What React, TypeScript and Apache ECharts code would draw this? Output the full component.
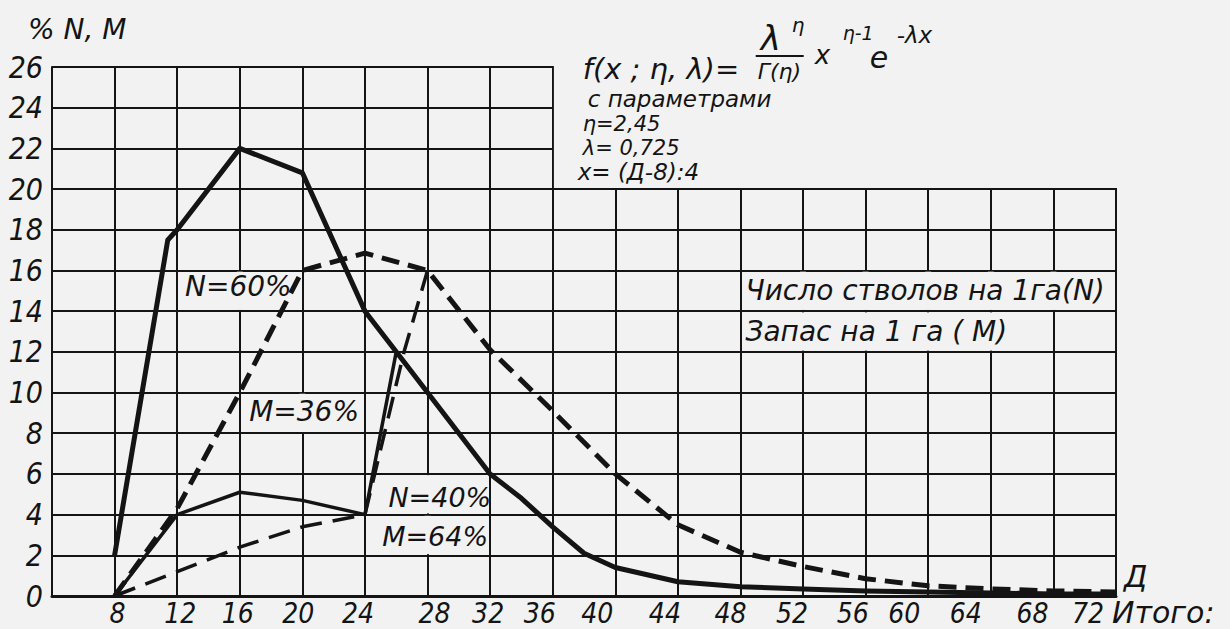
import { useEffect, useRef } from 'react';
import * as echarts from 'echarts';

const BG = '#f2f2f2';
const INK = '#141414';

// Diameter classes (Д, cm) shown on the x axis and percentage ticks on y axis
const xTickValues = [8, 12, 16, 20, 24, 28, 32, 36, 40, 44, 48, 52, 56, 60, 64, 68, 72];
const yTickValues = [0, 2, 4, 6, 8, 10, 12, 14, 16, 18, 20, 22, 24, 26];

// Total number of stems N, %
const totalN: [number, number][] = [
  [8, 2], [11.4, 17.5], [12, 18], [16, 22], [20, 20.8], [24, 14], [26, 12], [28, 10],
  [32, 6], [34, 4.8], [36, 3.4], [38, 2.1], [40, 1.4], [44, 0.7], [48, 0.45], [52, 0.35],
  [56, 0.25], [60, 0.2], [64, 0.15], [68, 0.1], [72, 0.1],
];
// Total stock M, %
const totalM: [number, number][] = [
  [8, 0], [12, 4.3], [16, 10], [20, 16], [24, 16.85], [28, 16], [32, 12.1], [36, 9.1],
  [40, 6], [44, 3.5], [48, 2.15], [52, 1.45], [56, 0.85], [60, 0.5], [64, 0.35], [68, 0.25], [72, 0.2],
];
// Component of large trees: N = 40 %
const partN: [number, number][] = [
  [8, 0], [12, 4], [16, 5.1], [20, 4.7], [24, 4], [24.4, 5.6], [26, 12],
];
// Component of large trees: M = 64 %
const partM: [number, number][] = [
  [8, 0], [12, 1.2], [16, 2.4], [20, 3.4], [24, 4], [26.5, 12], [28, 16],
];

// layout: horizontal nudges (px) of the hand-lettered x tick labels
const xLabelNudge = [3, 3, -2, -4, -7, 7, -2, -13, -18, -13, -10, -11, -13, -24, -25, -21, -28];

const FONT_AX = "'Liberation Sans Narrow', 'DejaVu Sans Condensed', 'Liberation Sans', sans-serif";
const FONT_TX = "'DejaVu Sans', 'Liberation Sans', sans-serif";

export default function App() {
  const ref = useRef<HTMLDivElement>(null);

  useEffect(() => {
    if (!ref.current) return;
    const chart = echarts.init(ref.current, null, { renderer: 'svg' });
    const lineSeries = (name: string, data: [number, number][], width: number, type: any) => ({
      name,
      type: 'line',
      data,
      symbol: 'none',
      z: 2,
      lineStyle: { color: INK, width, type, cap: 'butt', join: 'round' },
    });
    const rich: Record<string, any> = {};
    xLabelNudge.forEach((d, i) => {
      rich['l' + i] = {
        color: INK,
        fontFamily: FONT_AX,
        fontStyle: 'italic',
        fontSize: 28,
        padding: d < 0 ? [0, -2 * d, 0, 0] : [0, 0, 0, 2 * d],
      };
    });
    chart.setOption({
      animation: false,
      backgroundColor: BG,
      grid: { left: 52, right: 114, top: 67, bottom: 33, containLabel: false },
      xAxis: {
        type: 'value',
        min: 4,
        max: 72,
        interval: 4,
        axisLine: { show: true, lineStyle: { color: INK, width: 3 } },
        axisTick: { show: false },
        axisLabel: {
          color: INK,
          fontFamily: FONT_AX,
          fontStyle: 'italic',
          fontSize: 28,
          margin: 3,
          formatter: (v: number) => {
            const i = xTickValues.indexOf(v);
            return i < 0 ? '' : `{l${i}|${v}}`;
          },
          rich,
        },
        splitLine: { show: true, lineStyle: { color: INK, width: 2 } },
      },
      yAxis: {
        type: 'value',
        min: 0,
        max: 26,
        interval: 2,
        axisLine: { show: true, lineStyle: { color: INK, width: 2 } },
        axisTick: { show: false },
        axisLabel: {
          color: INK,
          fontFamily: FONT_AX,
          fontStyle: 'italic',
          fontSize: 30,
          margin: 9,
          formatter: (v: number) => (yTickValues.includes(v) ? String(v) : ''),
        },
        splitLine: { show: true, lineStyle: { color: INK, width: 2 } },
      },
      series: [
        lineSeries('N', totalN, 5, 'solid'),
        lineSeries('M', totalM, 5, [18, 9]),
        lineSeries('N40', partN, 3.5, 'solid'),
        lineSeries('M64', partM, 3.5, [22, 11]),
      ],
    });

    const p = (x: number, y: number) => chart.convertToPixel({ gridIndex: 0 }, [x, y]) as number[];
    const g: any[] = [];
    const cover = (x1: number, y1: number, x2: number, y2: number) =>
      g.push({ type: 'rect', z: 1, silent: true, shape: { x: x1, y: y1, width: x2 - x1, height: y2 - y1 }, style: { fill: BG } });
    // blank area (formula) at top right
    {
      const a = p(36, 26), b = p(72, 20);
      cover(a[0] + 1.2, a[1] - 4, b[0] + 4, b[1] - 1.2);
    }
    // erase vertical grid segments behind labels
    const eraseV = (x: number, y1: number, y2: number) => {
      const a = p(x, y1), b = p(x, y2);
      cover(a[0] - 3, a[1] + 1.2, a[0] + 3, b[1] - 1.2);
    };
    eraseV(16, 16, 14);
    eraseV(20, 10, 8);
    eraseV(28, 6, 4);
    eraseV(28, 4, 2);
    [52, 56, 60, 64, 68].forEach((x) => eraseV(x, 16, 14));
    [52, 56, 60, 64].forEach((x) => eraseV(x, 14, 12));

    const txt = (text: string, x: number, y: number, size: number, font = FONT_TX, align = 'left') =>
      g.push({
        type: 'text',
        z: 3,
        silent: true,
        x,
        y,
        style: {
          text,
          fill: INK,
          font: `italic ${size}px ${font}`,
          textAlign: align,
          textVerticalAlign: 'middle',
        },
      });
    const at = (x: number, y: number) => p(x, y);

    let q = at(12.5, 15.2); txt('N=60%', q[0], q[1], 28);
    q = at(16.6, 9.05); txt('M=36%', q[0], q[1], 28);
    q = at(25.5, 4.85); txt('N=40%', q[0], q[1], 27);
    q = at(25.1, 2.9); txt('M=64%', q[0], q[1], 27);
    q = at(48, 15); txt('Число стволов на 1га(N)', q[0] + 5, q[1], 28);
    q = at(48, 13); txt('Запас на 1 га ( М)', q[0] + 5, q[1], 28);

    // axis names
    q = at(4, 26); txt('% N, M', q[0] - 24, q[1] - 38, 28);
    q = at(72, 0); txt('Д', q[0] + 8, q[1] - 20, 30);
    txt('Итого:', q[0] - 4, q[1] + 16, 30);

    // formula block
    const f0 = at(36, 26);
    const fx = f0[0] + 30, fy = f0[1];
    txt('f(x ; η, λ)=', fx, fy + 2, 29);
    txt('λ', fx + 178, fy - 29, 34);
    txt('η', fx + 209, fy - 42, 20);
    g.push({ type: 'line', z: 3, silent: true, shape: { x1: fx + 173, y1: fy - 11, x2: fx + 221, y2: fy - 11 }, style: { stroke: INK, lineWidth: 2 } });
    txt('Γ(η)', fx + 175, fy + 4, 22);
    txt('x', fx + 232, fy - 12, 26);
    txt('η-1', fx + 260, fy - 34, 19);
    txt('e', fx + 287, fy - 10, 30);
    txt('-λx', fx + 314, fy - 32, 23);
    txt('с параметрами', fx + 5, fy + 32, 23);
    txt('η=2,45', fx, fy + 57, 21);
    txt('λ= 0,725', fx, fy + 81, 21);
    txt('x= (Д-8):4', fx - 5, fy + 105, 23);

    chart.setOption({ graphic: g });

    return () => chart.dispose();
  }, []);

  return <div ref={ref} style={{ position: 'absolute', left: 0, top: 0, width: 1230, height: 629 }} />;
}
